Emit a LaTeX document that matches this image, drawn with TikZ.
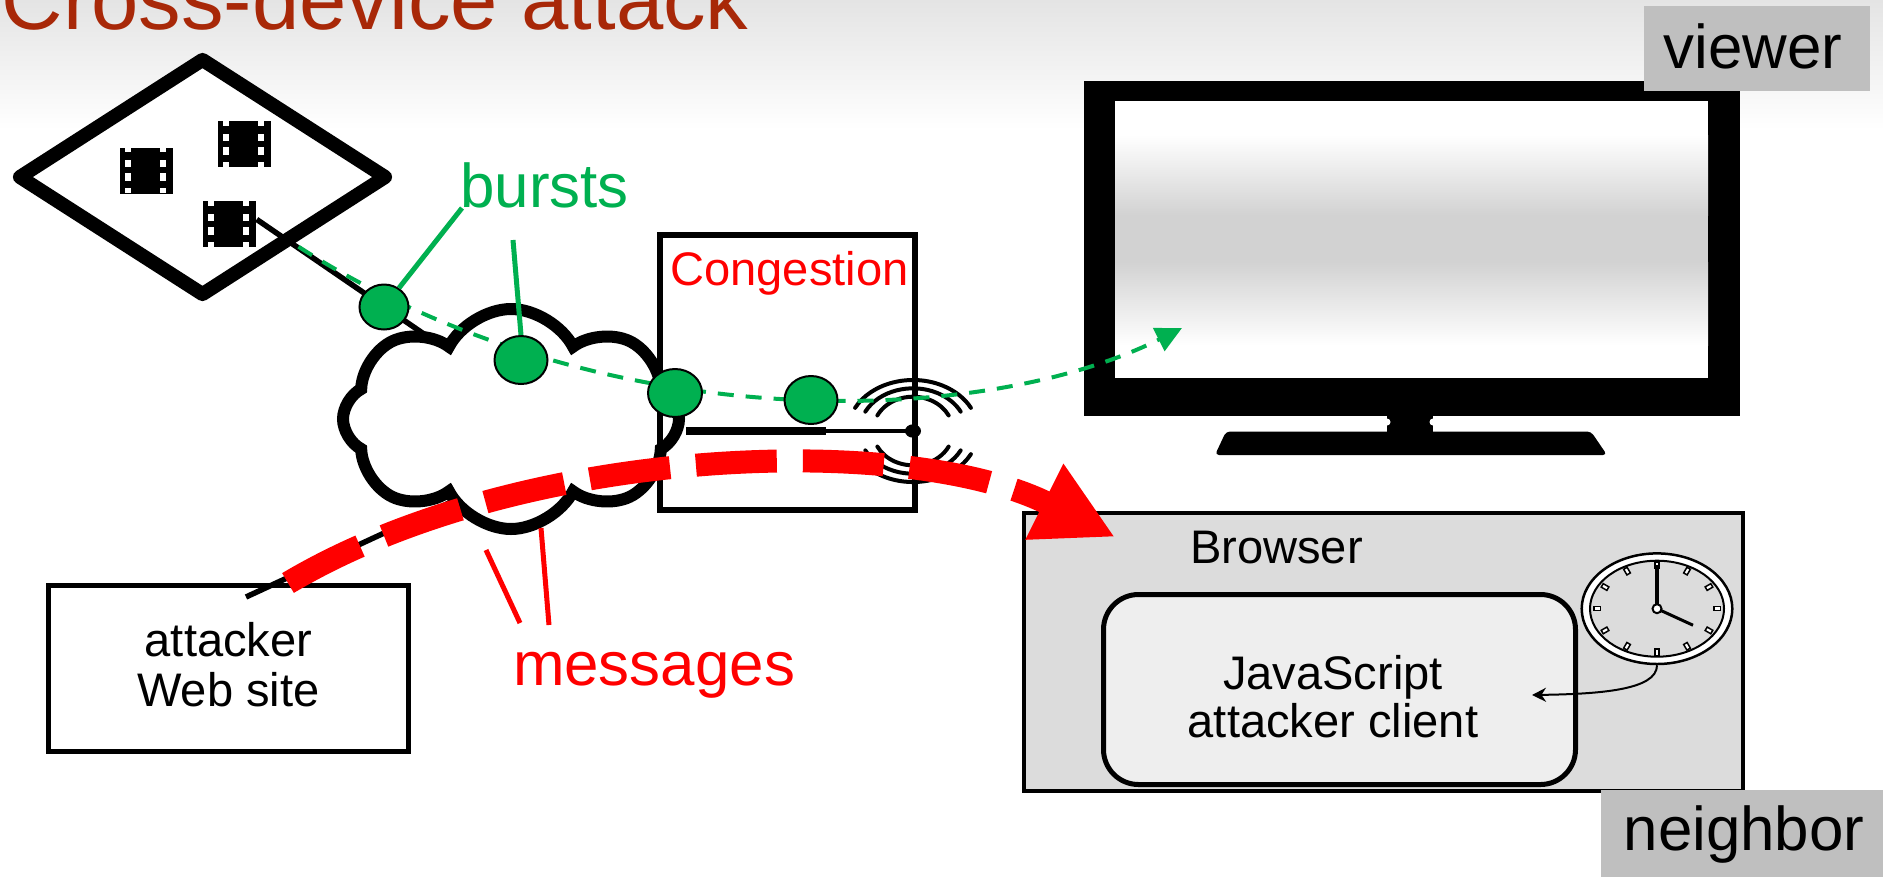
\documentclass[tikz,border=0pt]{standalone}
\usepackage{fontspec}
\setmainfont{Liberation Sans}
\usetikzlibrary{shapes.geometric,shapes.symbols,arrows.meta,calc}

\definecolor{titlered}{RGB}{168,40,8}
\definecolor{burstgreen}{RGB}{0,176,80}
\definecolor{tagfill}{RGB}{191,191,191}
\definecolor{browserfill}{RGB}{220,220,220}
\definecolor{clientfill}{RGB}{238,238,238}
\definecolor{screengray}{RGB}{210,210,210}
\definecolor{topgray}{RGB}{228,228,228}

\tikzset{
  bigtext/.style={font=\fontsize{17.6pt}{20pt}\selectfont, inner sep=0pt},
  midtext/.style={font=\fontsize{13.4pt}{14.2pt}\selectfont, inner sep=0pt},
  tagbox/.style={fill=tagfill, inner sep=0pt, draw=none},
  burst/.style={ellipse, draw=black, line width=0.2mm, fill=burstgreen, inner sep=0pt},
  leader/.style={line width=0.5mm},
  flow/.style={burstgreen, line width=0.4mm, dash pattern=on 1.6mm off 1.2mm},
  probe/.style={red, line width=2.3mm, dash pattern=on 8.1mm off 2.6mm},
  filmstrip/.pic={
    \node[fill=black, minimum width=5.3mm, minimum height=4.6mm, inner sep=0pt,
          anchor=north west] (-frame) at (0,0) {};
    \foreach \hx in {6,41}{
      \fill[white] (\hx,0) rectangle ++(5.7,5.3);
      \fill[white] (\hx,13) rectangle ++(5.7,7);
      \fill[white] (\hx,26.3) rectangle ++(5.7,7.5);
      \fill[white] (\hx,41) rectangle ++(5.7,5);
    }
  }
}

\begin{document}
\begin{tikzpicture}[x=0.1mm, y=-0.1mm]
  \clip (0,0) rectangle (1883,876);
  % page background with a soft grey band along the top
  \fill[white] (0,0) rectangle (1883,876);
  \shade[top color=topgray, bottom color=white] (0,0) rectangle (1883,130);

  \node[anchor=base west, inner sep=0pt, text=titlered,
        font=\fontsize{24.2pt}{28pt}\selectfont] (title) at (1,29.3) {Cross-device attack};

  % content server with three videos
  \node[diamond, draw, line width=1.4mm, line join=round, fill=white,
        minimum width=37.1mm, minimum height=24mm, inner sep=0pt] (cdn) at (202.5,177) {};
  \pic (filmA) at (119,147) {filmstrip};
  \pic (filmB) at (217.3,120.7) {filmstrip};
  \pic (filmC) at (202.3,200.7) {filmstrip};

  % wires into the network cloud
  \coordinate (netin) at (440,345);
  \coordinate (netout) at (490,484);
  \coordinate (siteport) at (246,597);
  \draw[line width=0.55mm] ($(filmC-frame.east)+(0,-5)$) -- (netin);
  \draw[line width=0.55mm] (siteport) -- (netout);

  \node[cloud, draw, line width=1.2mm, fill=white, cloud puffs=8, cloud puff arc=125,
        aspect=1.5, minimum width=33.6mm, minimum height=22mm, inner sep=0pt] (net) at (511,419) {};

  % congested access point
  \node[draw, line width=0.6mm, minimum width=25.5mm, minimum height=27.5mm,
        inner sep=0pt] (cong) at (787.5,372.5) {};
  \node[midtext, text=red, anchor=base] (congtext) at (789.5,285) {Congestion};
  \coordinate (ap) at (913,431);
  \coordinate (wire0) at (686,431);
  \coordinate (wire1) at (826,431);
  \draw[line width=0.8mm] (wire0) -- (wire1);
  \draw[line width=0.33mm] (wire1) -- (ap);
  \fill (ap) ellipse [x radius=8, y radius=6.7];
  \foreach \rx/\ry in {65/51, 53.5/42.7, 40/34.3} {
    \draw[line width=0.4mm, line cap=round] ($(ap)+({\rx*cos(207)},{\ry*sin(207)})$)
      arc[start angle=207, end angle=333, x radius=\rx, y radius=\ry];
    \draw[line width=0.4mm, line cap=round] ($(ap)+({\rx*cos(27)},{\ry*sin(27)})$)
      arc[start angle=27, end angle=153, x radius=\rx, y radius=\ry];
  }

  % attacker web site
  \node[draw, line width=0.5mm, minimum width=36mm, minimum height=16.6mm,
        inner sep=0pt] (site) at (228.5,668.5) {};
  \node[midtext, align=center] (sitetext) at (228.5,665) {attacker\\Web site};

  % television of the viewer
  \node[fill=black, minimum width=65.6mm, minimum height=33.5mm, inner sep=0pt,
        anchor=north west] (tv) at (1083,80) {};
  \fill[white] (1115,101) rectangle (1708,378);
  \shade[top color=white, bottom color=screengray] (1115,135) rectangle (1708,215);
  \fill[screengray] (1115,215) rectangle (1708,262);
  \shade[top color=screengray, bottom color=white] (1115,262) rectangle (1708,345);
  \fill (1387,414) rectangle (1433,433);
  \fill[white] (1387,422) circle[radius=3.5];
  \fill[white] (1433,422) circle[radius=3.5];
  \fill[rounded corners=0.4mm] (1226,431.5) -- (1591,431.5) -- (1607,455) -- (1215,455) -- cycle;
  \coordinate (tvport) at (1182,328);

  % neighbour's browser
  \node[draw, line width=0.4mm, fill=browserfill, minimum width=71.9mm,
        minimum height=27.8mm, inner sep=0pt] (browser) at (1383.5,652) {};
  \node[midtext, anchor=base] (browsertext) at (1276.5,563) {Browser};
  \node[draw, line width=0.5mm, fill=clientfill, rounded corners=3.5mm,
        minimum width=47.2mm, minimum height=19mm, inner sep=0pt] (client) at (1339.5,689.5) {};
  \node[font=\fontsize{13.4pt}{13.7pt}\selectfont, inner sep=0pt, align=center]
        (clienttext) at (1333,696.5) {JavaScript\\attacker client};

  % clock
  \node[ellipse, draw, line width=0.25mm, fill=white, minimum width=15.06mm,
        minimum height=11.06mm, inner sep=0pt] (clock) at (1657,608.7) {};
  \draw[line width=0.2mm, fill=browserfill] (clock.center) ellipse[x radius=67, y radius=48];
  \foreach \a in {0,30,...,330}
    \node[draw=black, line width=0.15mm, fill=white, minimum width=0.65mm,
          minimum height=0.4mm, inner sep=0pt, rotate=-\a] (tick\a)
          at ($(clock.center)+({60*cos(\a)},{43.4*sin(\a)})$) {};
  \draw[line width=0.35mm] (clock.center) -- ++(0,-44);
  \draw[line width=0.3mm] (clock.center) -- ++(36,16.5);
  \node[circle, draw, line width=0.2mm, fill=white, minimum size=0.9mm,
        inner sep=0pt] (hub) at (clock.center) {};
  \coordinate (clientport) at (1532,695);
  \draw[line width=0.2mm, -{Stealth[length=1.4mm, width=1.4mm]}]
    (clock.south) .. controls (1657,690) and (1600,694) .. (clientport);

  % video bursts towards the viewer
  \coordinate (cdnport) at (298.5,246.7);
  \draw[flow, -{Triangle[length=2.6mm, width=2.5mm]}]
    (cdnport) .. controls (600,440) and (982,428) .. (tvport);
  \node[burst, minimum width=4.9mm, minimum height=4.5mm] (burst1) at (384,307) {};
  \node[burst, minimum width=5.3mm, minimum height=4.8mm] (burst2) at (521,360) {};
  \node[burst, minimum width=5.4mm, minimum height=4.8mm] (burst3) at (675,393) {};
  \node[burst, minimum width=5.3mm, minimum height=4.8mm] (burst4) at (811,400) {};
  \coordinate (burstsfoot1) at (462,208);
  \coordinate (burstsfoot2) at (513,240);
  \draw[leader, burstgreen] (burstsfoot1) -- (burst1);
  \draw[leader, burstgreen] (burstsfoot2) -- (burst2.north);
  \node[bigtext, text=burstgreen, anchor=base] (bursts) at (544.5,207) {bursts};

  % attacker messages towards the browser
  \coordinate (sitetop) at (288,583);
  \coordinate (browserport) at (1115,537);
  \draw[probe, -{Triangle[length=7.9mm, width=7.9mm]}]
    (sitetop) .. controls (520,445) and (905,432) .. (browserport);
  \coordinate (msgA1) at (486,550);
  \coordinate (msgA2) at (520,623);
  \coordinate (msgB1) at (541,528);
  \coordinate (msgB2) at (549,625);
  \draw[leader, red] (msgA1) -- (msgA2);
  \draw[leader, red] (msgB1) -- (msgB2);
  \node[bigtext, text=red, anchor=base] (messages) at (654,685) {messages};

  % role tags
  \node[tagbox, minimum width=22.6mm, minimum height=8.5mm] (viewerbox) at (1757,48.5) {};
  \node[bigtext, anchor=base] (viewer) at (1753,68) {viewer};
  \node[tagbox, minimum width=28.3mm, minimum height=8.7mm, anchor=north west]
    (neighborbox) at (1600,789) {};
  \node[bigtext, anchor=base] (neighbor) at (1744,850) {neighbor};
\end{tikzpicture}
\end{document}
